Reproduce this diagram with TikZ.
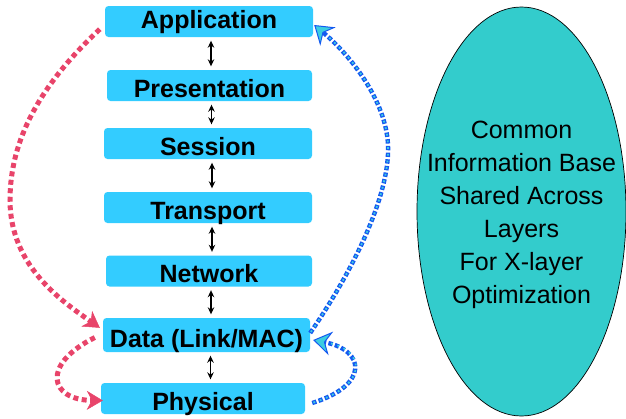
\documentclass[tikz,border=0pt]{standalone}
\usepackage{fontspec}
\setmainfont{Liberation Sans}
\usetikzlibrary{arrows.meta,shapes.geometric}
\definecolor{layerblue}{RGB}{51,204,255}
\definecolor{cibteal}{RGB}{51,204,204}
\definecolor{flowred}{RGB}{232,68,106}
\definecolor{flowblue}{RGB}{20,90,240}
\definecolor{flowcyan}{RGB}{60,205,225}
\begin{document}
\begin{tikzpicture}[x=1pt,y=-1pt,
  layer/.style={rectangle, rounded corners=3.5pt, fill=layerblue, inner sep=0pt,
    text height=23pt, text depth=0pt, font=\fontsize{25}{28}\selectfont\bfseries},
  updown/.style={line width=1.5pt, shorten <=3.5pt, shorten >=3.5pt,
    {Stealth[length=7pt,width=6.5pt]}-{Stealth[length=7pt,width=6.5pt]}},
  reddots/.style={draw=flowred, line width=5pt, dash pattern=on 5pt off 3.5pt,
    -{Stealth[length=16pt,width=19pt,inset=5pt,line width=0.5pt,fill=flowred]}},
  bluedots/.style={draw=flowblue, line width=4.4pt, dash pattern=on 4.4pt off 2.3pt,
    -{Stealth[length=18pt,width=24pt,inset=6pt,line width=1pt,fill=flowcyan]},
    postaction={-, draw=flowcyan, line width=1.8pt,
      dash pattern=on 1.8pt off 4.9pt, dash phase=5.4pt, shorten >=16pt}},
  cibtext/.style={align=center, inner sep=0pt, font=\fontsize{25}{33}\selectfont}]
\useasboundingbox (0,0) rectangle (626,418);

% protocol stack
\node[layer, minimum width=208pt, minimum height=31pt,
      text height=18pt, text depth=5pt]            (app)   at (209,21.5)  {Application};
\node[layer, minimum width=205pt, minimum height=31pt] (pres)  at (209.5,85.5){Presentation};
\node[layer, minimum width=208pt, minimum height=31pt] (sess)  at (208,143.5) {Session};
\node[layer, minimum width=208pt, minimum height=31pt] (trans) at (208,207.5) {Transport};
\node[layer, minimum width=206pt, minimum height=31pt] (net)   at (209,271)   {Network};
\node[layer, minimum width=207pt, minimum height=34pt,
      text height=24pt]                            (data)  at (206.5,335) {Data (Link/MAC)};
\node[layer, minimum width=204pt, minimum height=31pt] (phys)  at (203,398.5) {Physical};

% links between adjacent layers
\draw[updown] ([xshift=2pt]app.south)   -- ([xshift=2pt]app.south |- pres.north);
\draw[updown] ([xshift=2pt]pres.south)  -- ([xshift=2pt]pres.south |- sess.north);
\draw[updown] ([xshift=4pt]sess.south)  -- ([xshift=4pt]sess.south |- trans.north);
\draw[updown] ([xshift=4pt]trans.south) -- ([xshift=4pt]trans.south |- net.north);
\draw[updown] ([xshift=2pt]net.south)   -- ([xshift=2pt]net.south |- data.north);
\draw[updown] ([xshift=4pt]data.south)  -- ([xshift=4pt]data.south |- phys.north);

% downward cross-layer flows
\draw[reddots] ([shift={(-5,-8)}]app.south west)
  .. controls (40,85) and (10,140) .. (10,200)
  .. controls (10,265) and (60,300) .. ([shift={(-3,10)}]data.north west);
\draw[reddots] ([shift={(-8,2.5)}]data.west)
  .. controls (40,365) and (50,400) .. ([shift={(2,2)}]phys.west);

% upward cross-layer flows
\draw[bluedots] ([shift={(0,-2)}]data.east)
  .. controls (360,260) and (390,190) .. (388,145)
  .. controls (386,100) and (350,55) .. ([shift={(1,3.5)}]app.east);
\draw[bluedots] ([shift={(7,4.5)}]phys.east)
  .. controls (370,385) and (365,350) .. ([shift={(3,5)}]data.east);

% shared information base
\node[ellipse, draw, line width=0.7pt, fill=cibteal, inner sep=0pt,
  minimum width=209pt, minimum height=409pt] (cib) at (521.5,211.5) {};
\node[cibtext] (cibt) at ([yshift=-3pt]cib.center) {Common\\Information Base\\Shared Across\\Layers\\For X-layer\\Optimization};
\end{tikzpicture}
\end{document}
